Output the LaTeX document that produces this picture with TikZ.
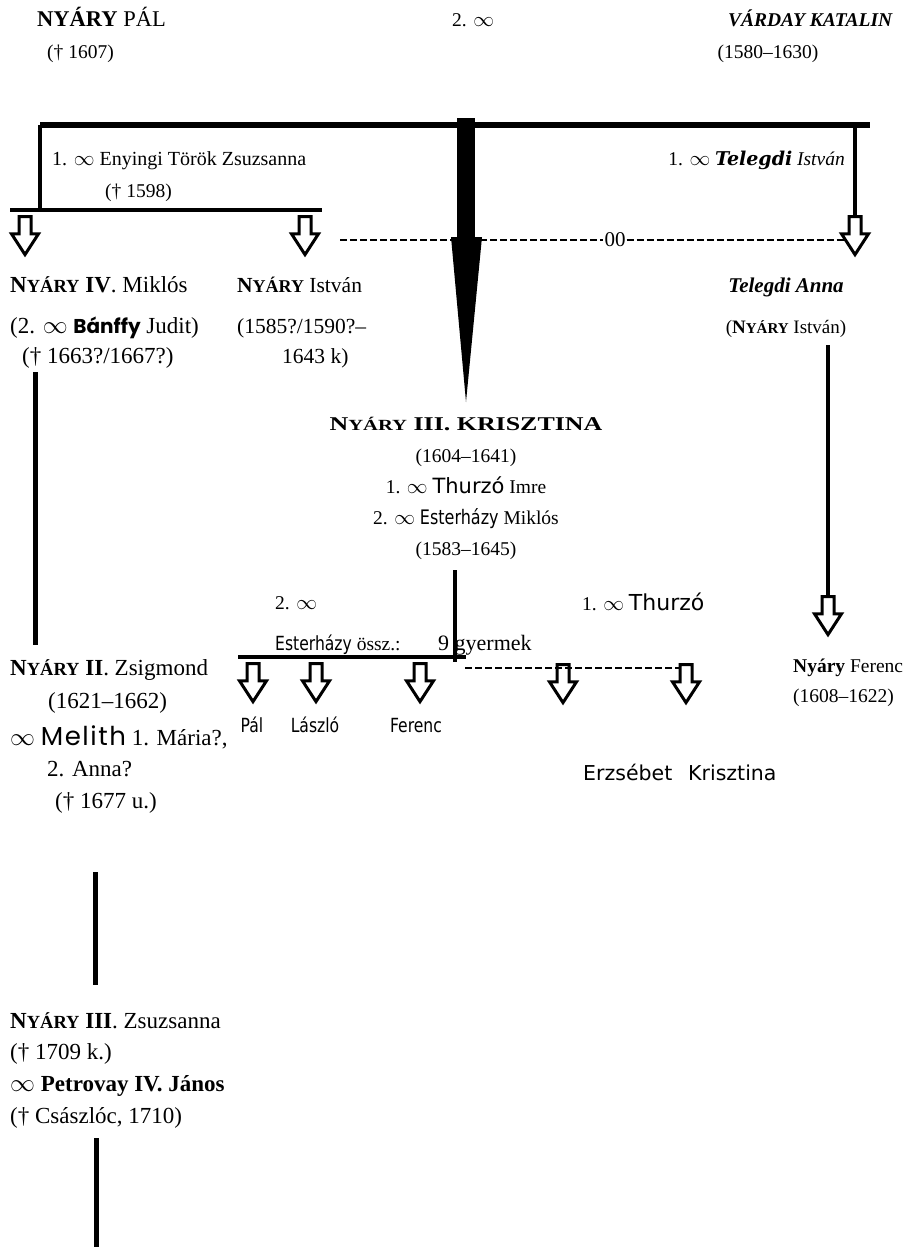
\documentclass[tikz,border=0pt]{standalone}
\usepackage{fontspec}
\setmainfont{Liberation Serif}
\newfontfamily\thfont{DejaVu Sans}
\newfontfamily\esfont[FakeStretch=0.8]{DejaVu Sans}
\newfontfamily\bafont{Poppins}
\newfontfamily\mefont[LetterSpace=6]{Poppins}
\newfontfamily\tgfont{DejaVu Serif}
\newfontfamily\wdfont[FakeStretch=1.33]{Liberation Serif}
\usetikzlibrary{shapes.arrows,positioning}
\newcommand\nysc[1][15.5]{\textbf{N{\fontsize{#1}{#1}\selectfont YÁRY}}}
\newcommand\infy{$\infty$}
\tikzset{
  x=1pt, y=-1pt,
  every node/.style={inner sep=0pt, font=\fontsize{19.5}{23}\selectfont},
  big/.style={font=\fontsize{23}{27}\selectfont},
  harrow/.style={single arrow, draw, line width=3pt, shape border rotate=270,
    minimum height=38pt, single arrow head extend=7.5pt, single arrow tip angle=66,
    inner sep=4.5pt},
  bar/.style={line width=4pt},
  lin/.style={line width=5pt},
  dots/.style={dash pattern=on 7pt off 3pt, gray!30!black, line width=1.2pt}
}

\begin{document}
\begin{tikzpicture}
  \useasboundingbox (0,0) rectangle (909,1247);
  \begin{scope}[every node/.append style={anchor=base west}]
    % parents
    \node[font=\fontsize{22.5}{26}\selectfont] (pal) at (37,27) {\textbf{NYÁRY} PÁL};
    \node (paldate) at (47,59) {(† 1607)};
    \node (marr) at (452,27) {2. \infy};
    \node[anchor=base east] (var) at (893,27) {\textbf{\textit{VÁRDAY KATALIN}}};
    \node[anchor=base] (vardate) at (768,59) {(1580–1630)};
    \node[font=\fontsize{20}{23}\selectfont] (enying) at (52,165) {1. \infy\ Enyingi Török Zsuzsanna};
    \node (enydate) at (105,197) {(† 1598)};
    \node[anchor=base east] (teleg) at (845,165) {1. \infy\ {\tgfont\bfseries\itshape\fontsize{19}{23}\selectfont Telegdi} \textit{István}};
    \node[fill=white, inner xsep=1pt, anchor=center, font=\fontsize{21}{23}\selectfont] (oo) at (615,240) {00};

    % children
    \node[big] (miklos) at (10,292) {\nysc[18.5]\ \textbf{IV}. Miklós};
    \node[big] (miklos2) at (10,333) {(2. \infy\ {\bafont\bfseries\fontsize{20}{23}\selectfont Bánffy} Judit)};
    \node[big] (miklos3) at (22,363) {(† 1663?/1667?)};
    \node[font=\fontsize{21.5}{25}\selectfont] (istvan) at (237,292) {\nysc[18]\ István};
    \node[font=\fontsize{21.5}{25}\selectfont] (istvan2) at (237,333) {(1585?/1590?–};
    \node[font=\fontsize{21.5}{25}\selectfont] (istvan3) at (282,363) {1643 k)};
    \node[anchor=base, font=\fontsize{21}{25}\selectfont] (anna) at (786,292) {\textbf{\textit{Telegdi Anna}}};
    \node[anchor=base, font=\fontsize{19}{23}\selectfont] (anna2) at (786,333) {(\nysc[15] István)};

    \node[anchor=base] (kr1) at (466,430) {\wdfont\nysc\ \textbf{III. KRISZTINA}};
    \node[anchor=base] (kr2) at (466,462) {(1604–1641)};
    \node[anchor=base] (kr3) at (466,493) {1. \infy\ {\thfont\fontsize{21}{23}\selectfont Thurzó} Imre};
    \node[anchor=base] (kr4) at (466,524) {2. \infy\ {\esfont\fontsize{20}{23}\selectfont Esterházy} Miklós};
    \node[anchor=base] (kr5) at (466,555) {(1583–1645)};

    \node (est1) at (275,609) {2. \infy};
    \node (est2) at (275,650) {{\esfont Esterházy} össz.:};
    \node[font=\fontsize{22}{25}\selectfont] (est3) at (438,650) {9 gyermek};
    \node (thu) at (582,610) {1. \infy\ {\thfont\fontsize{22}{24}\selectfont Thurzó}};

    \node[anchor=base, font=\esfont\fontsize{19.5}{23}\selectfont] (pal2) at (252,732) {Pál};
    \node[anchor=base, font=\esfont\fontsize{19.5}{23}\selectfont] (lasz) at (315,732) {László};
    \node[anchor=base, font=\esfont\fontsize{19.5}{23}\selectfont] (fer) at (416,732) {Ferenc};
    \node[font=\thfont\fontsize{20.5}{23}\selectfont] (erz) at (583,780) {Erzsébet};
    \node[font=\thfont\fontsize{20.5}{23}\selectfont] (kri) at (688,780) {Krisztina};

    \node (nfer) at (793,672) {\textbf{Nyáry} Ferenc};
    \node (nfer2) at (793,702) {(1608–1622)};

    \node[big] (zsig) at (10,675) {\nysc[18.5]\ \textbf{II}. Zsigmond};
    \node[big] (zsig2) at (48,708) {(1621–1662)};
    \node[big] (zsig3) at (10,745) {\infy\ {\mefont\fontsize{26}{26}\selectfont Melith}\ 1. Mária?,};
    \node[big] (zsig4) at (47,776) {2. Anna?};
    \node[big] (zsig5) at (55,808) {(† 1677 u.)};

    \node[big] (zsu) at (10,1028) {\nysc[18.5]\ \textbf{III}. Zsuzsanna};
    \node[big] (zsu2) at (10,1059) {(† 1709 k.)};
    \node[big] (zsu3) at (10,1091) {\infy\ \textbf{Petrovay IV. János}};
    \node[big] (zsu4) at (10,1123) {(† Császlóc, 1710)};
  \end{scope}

  % hollow arrows
  \begin{scope}
    \node[harrow] (amik) at (25,231) {};
    \node[harrow] (aist) at (305,231) {};
    \node[harrow] (aann) at (855,231) {};
    \node[harrow] (afer) at (828,611) {};
    \node[harrow] (apal) at (253,678) {};
    \node[harrow] (alas) at (316,678) {};
    \node[harrow] (afe2) at (420,678) {};
    \node[harrow] (aerz) at (563,679) {};
    \node[harrow] (akri) at (686,679) {};
  \end{scope}

  % junctions
  \coordinate (tl) at (40,125);
  \coordinate (tr) at (870,125);
  \coordinate (tm) at (466,118);
  \coordinate (bj) at (40,212);
  \coordinate (bl) at (10,210);
  \coordinate (br) at (322,210);
  \coordinate (rj) at (855,123);
  \coordinate (wl) at (451,237);
  \coordinate (wr) at (482,237);
  \coordinate (wt) at (466,402);
  \coordinate (wm) at (466,238);
  \coordinate (dl) at (340,240);
  \coordinate (dr) at (845,240);
  \coordinate (mk1) at (35,372);
  \coordinate (mk2) at (35,645);
  \coordinate (an1) at (828,345);
  \coordinate (kj1) at (455,570);
  \coordinate (kj2) at (455,662);
  \coordinate (kb1) at (238,657);
  \coordinate (kb2) at (466,657);
  \coordinate (td1) at (465,668);
  \coordinate (td2) at (680,668);
  \coordinate (zg1) at (95,872);
  \coordinate (zg2) at (95,985);
  \coordinate (zs1) at (96,1138);
  \coordinate (zs2) at (96,1247);

  \begin{scope}[every edge/.style={draw=black}]
    \path[line width=6pt] (tl) edge (tr);
    \path[bar] (tl) edge (bj);
    \path[bar] (bl) edge (br);
    \path[bar] (rj) edge (aann.tail);
    \path[line width=18pt] (tm) edge (wm);
    \fill (wl) -- (wr) -- (wt) -- cycle;
    \path[dots] (dl) edge (oo.west) (oo.east) edge (dr);

    \path[lin] (mk1) edge (mk2);
    \path[bar] (an1) edge (afer.tail);
    \path[bar] (kj1) edge (kj2);
    \path[bar] (kb1) edge (kb2);
    \path[dots] (td1) edge (td2);
    \path[lin] (zg1) edge (zg2);
    \path[lin] (zs1) edge (zs2);
  \end{scope}
\end{tikzpicture}
\end{document}
